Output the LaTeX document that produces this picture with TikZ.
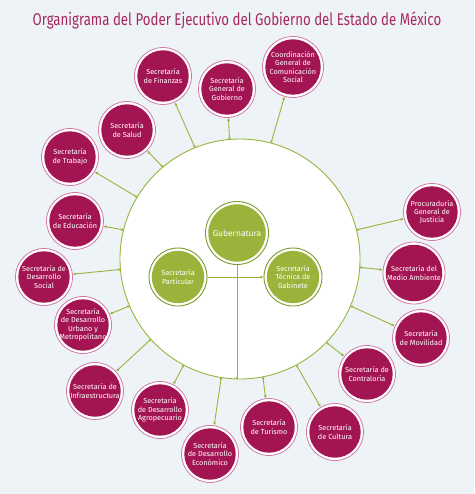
\documentclass[tikz,border=0pt]{standalone}
\usepackage{fontspec}
\setmainfont{Fira Sans}
\newfontfamily\titlefont[FakeStretch=0.78]{Fira Sans}
\usetikzlibrary{arrows.meta}
\definecolor{wine}{HTML}{A31552}
\definecolor{blush}{HTML}{D27AA8}
\definecolor{leaf}{HTML}{9BB33A}
\definecolor{moss}{HTML}{7E9A2B}
\definecolor{paper}{HTML}{EEF3F7}
\definecolor{headline}{HTML}{A8285E}

\begin{document}
\begin{tikzpicture}[x=1pt, y=-1pt,
  secr/.style={circle, draw=blush, line width=0.8pt, fill=white, minimum size=#1, inner sep=0pt,
    align=center, text=white, font=\fontsize{7.3}{8.4}\selectfont,
    path picture={\fill[wine] (path picture bounding box.center) circle[radius=#1/2-2.8pt];}},
  secr/.default=57pt,
  core/.style={circle, draw=moss, line width=0.9pt, fill=white, minimum size=#1, inner sep=0pt,
    align=center, text=white, font=\fontsize{7.3}{8.4}\selectfont,
    path picture={\fill[leaf] (path picture bounding box.center) circle[radius=#1/2-2.8pt];}},
  core/.default=58pt,
  spoke/.style={{Circle[length=2.2pt]}-{Latex[length=3pt,width=3pt]}, draw=leaf, line width=0.9pt},
  arrow/.style={-{Latex[length=3pt,width=3pt]}, draw=leaf, line width=0.9pt}
]
\fill[paper] (0,0) rectangle (474,494);

\node[font=\titlefont\fontsize{17}{20}\selectfont, text=headline] (title) at (237,21)
  {Organigrama del Poder Ejecutivo del Gobierno del Estado de México};

% circulo central
\node[circle, draw=leaf, line width=0.9pt, fill=white, minimum size=240pt] (big) at (240,259) {};

\node[core=63pt, font=\fontsize{8.5}{10}\selectfont] (gub) at (237,233) {Gubernatura};
\node[core] (par) at (178,277) {Secretaría\\Particular};
\node[core] (tec) at (293,277) {Secretaría\\Técnica de\\Gabinete};
\coordinate (base) at (237,379);

\draw[arrow] (par) -- (tec);
\draw[leaf, line width=0.9pt, -{Circle[length=2.2pt]}] (gub) -- (base);

% dependencias
\node[secr] (fin) at (163,76) {Secretaría\\de Finanzas};
\node[secr] (gob) at (227,89) {Secretaría\\General de\\Gobierno};
\node[secr=61pt] (com) at (293,67) {Coordinación\\General de\\Comunicación\\Social};
\node[secr] (sal) at (127,130) {Secretaría\\de Salud};
\node[secr] (tra) at (70,157) {Secretaría\\de Trabajo};
\node[secr] (edu) at (75,221) {Secretaría\\de Educación};
\node[secr] (soc) at (44,277) {Secretaría de\\Desarrollo\\Social};
\node[secr] (urb) at (83,325) {Secretaría\\de Desarrollo\\Urbano y\\Metropolitano};
\node[secr] (inf) at (95,391) {Secretaría de\\Infraestructura};
\node[secr] (agr) at (160,410) {Secretaría\\de Desarrollo\\Agropecuario};
\node[secr] (eco) at (210,454) {Secretaría\\de Desarrollo\\Económico};
\node[secr] (tur) at (269,427) {Secretaría\\de Turismo};
\node[secr] (cul) at (335,432) {Secretaría\\de Cultura};
\node[secr] (con) at (367,374) {Secretaría de\\Contraloría};
\node[secr] (mov) at (421,338) {Secretaría\\de Movilidad};
\node[secr=62pt] (amb) at (414,273) {Secretaría del\\Medio Ambiente};
\node[secr] (pro) at (432,212) {Procuraduría\\General de\\Justicia};

\draw[spoke] (big.112) -- (fin);
\draw[spoke] (big.95) -- (gob);
\draw[spoke] (big.75) -- (com);
\draw[spoke] (big.130) -- (sal);
\draw[spoke] (big.149) -- (tra);
\draw[spoke] (big.166) -- (edu);
\draw[spoke] (big.185) -- (soc);
\draw[spoke] (big.203) -- (urb);
\draw[spoke] (big.222) -- (inf);
\draw[spoke] (big.242) -- (agr);
\draw[spoke] (big.261) -- (eco);
\draw[spoke] (big.281) -- (tur);
\draw[spoke] (big.298) -- (cul);
\draw[spoke] (big.316) -- (con);
\draw[spoke] (big.337) -- (mov);
\draw[spoke] (big.356) -- (amb);
\draw[spoke] (big.14) -- (pro);
\end{tikzpicture}
\end{document}
